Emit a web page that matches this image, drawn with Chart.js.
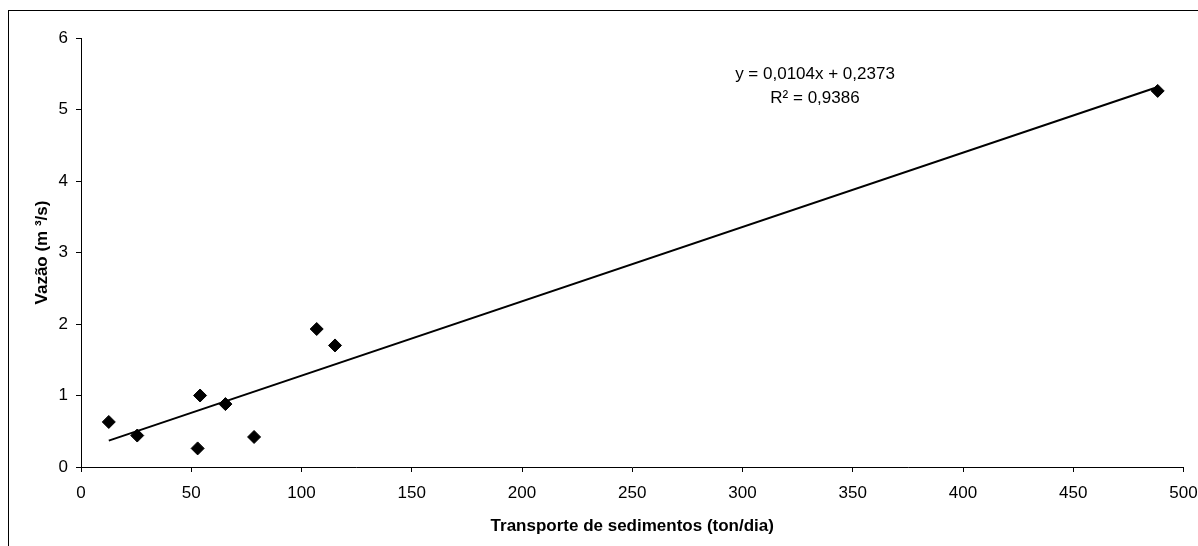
<!DOCTYPE html>
<html>
<head>
<meta charset="utf-8">
<script src="https://cdn.jsdelivr.net/npm/chart.js@4/dist/chart.umd.min.js"></script>
<style>
  html, body { margin: 0; padding: 0; background: #fff; }
  #wrap { width: 1198px; height: 546px; position: relative; }
</style>
</head>
<body>
<div id="wrap"><canvas id="grafico"></canvas></div>
<script>
// dados
const transporte = [12.6, 25.5, 52.9, 54.0, 65.5, 78.5, 106.9, 115.2, 488.3];
const vazao      = [0.63, 0.44, 0.26, 1.00, 0.88, 0.42, 1.93, 1.70, 5.26];

// linha de tendência (mostrada no gráfico)
const inclinacao = 0.0104;
const intercepto = 0.2373;
const equacaoTxt = ['y = 0,0104x + 0,2373', 'R² = 0,9386'];

const xTicks = [0, 50, 100, 150, 200, 250, 300, 350, 400, 450, 500];
const yTicks = [0, 1, 2, 3, 4, 5, 6];

const pontos = transporte.map((x, i) => ({ x: x, y: vazao[i] }));
const xMin = Math.min(...transporte), xMax = Math.max(...transporte);
const tendencia = [
    { x: xMin, y: inclinacao * xMin + intercepto },
    { x: xMax, y: inclinacao * xMax + intercepto }
];

const fonte = "'Liberation Sans', Arial, sans-serif";

// moldura e texto da equação
const extras = {
    id: 'extras',
    beforeDraw(chart) {
        const ctx = chart.ctx;
        ctx.save();
        ctx.fillStyle = '#fff';
        ctx.fillRect(0, 0, chart.width, chart.height);
        ctx.strokeStyle = '#000';
        ctx.lineWidth = 1;
        ctx.strokeRect(8.5, 10.5, chart.width + 10, chart.height + 10);
        ctx.restore();
    },
    afterDraw(chart) {
        const ctx = chart.ctx;
        ctx.save();
        ctx.fillStyle = '#000';
        ctx.font = '17px ' + fonte;
        ctx.textAlign = 'center';
        ctx.textBaseline = 'middle';
        ctx.fillText(equacaoTxt[0], 815, 74);
        ctx.fillText(equacaoTxt[1], 815, 98);
        ctx.restore();
    }
};

new Chart(document.getElementById('grafico'), {
    type: 'scatter',
    data: {
        datasets: [{
            data: pontos,
            pointStyle: 'rectRot',
            pointRadius: 6.5,
            pointHoverRadius: 6.5,
            backgroundColor: '#000',
            borderColor: '#000',
            borderWidth: 1,
            order: 1
        }, {
            type: 'line',
            data: tendencia,
            borderColor: '#000',
            borderWidth: 2,
            pointRadius: 0,
            fill: false,
            order: 2
        }]
    },
    options: {
        responsive: true,
        maintainAspectRatio: false,
        animation: false,
        events: [],
        layout: { padding: { top: 38, right: 14.5, left: 0, bottom: 0 } },
        plugins: { legend: { display: false }, tooltip: { enabled: false } },
        scales: {
            x: {
                type: 'linear',
                min: 0, max: 500,
                afterBuildTicks: s => { s.ticks = xTicks.map(v => ({ value: v })); },
                afterFit: s => { s.height = 79; s.paddingLeft = 0; s.paddingRight = 0; },
                grid: { drawOnChartArea: false, tickLength: 5, color: '#000' },
                border: { color: '#000', width: 1 },
                ticks: { color: '#000', padding: 11, maxRotation: 0, font: { family: fonte, size: 17 } },
                title: {
                    display: true,
                    text: 'Transporte de sedimentos (ton/dia)',
                    color: '#000',
                    font: { family: fonte, size: 17, weight: 'bold' },
                    padding: { top: 0, bottom: 9 }
                }
            },
            y: {
                type: 'linear',
                min: 0, max: 6,
                afterBuildTicks: s => { s.ticks = yTicks.map(v => ({ value: v })); },
                afterFit: s => { s.width = 81; s.paddingTop = 0; s.paddingBottom = 0; },
                grid: { drawOnChartArea: false, tickLength: 5, color: '#000' },
                border: { color: '#000', width: 1 },
                ticks: { color: '#000', padding: 8, font: { family: fonte, size: 17 } },
                title: {
                    display: true,
                    text: 'Vazão (m ³/s)',
                    color: '#000',
                    font: { family: fonte, size: 17, weight: 'bold' },
                    padding: { top: 32, bottom: 0 }
                }
            }
        }
    },
    plugins: [extras]
});
</script>
</body>
</html>
